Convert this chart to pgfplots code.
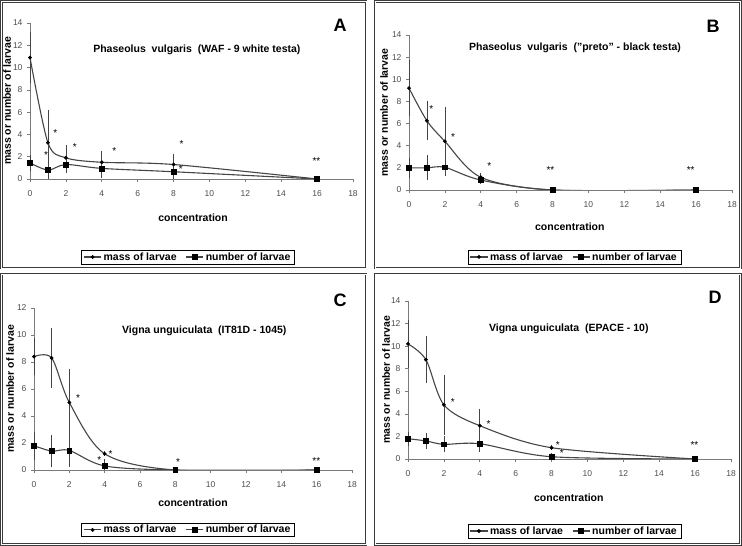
\documentclass[border=0pt]{standalone}
\usepackage{fontspec}
\setmainfont{Liberation Sans}
\usepackage{pgfplots}
\pgfplotsset{compat=1.18}

\definecolor{curve}{HTML}{454545}
\definecolor{axisgray}{HTML}{7A7A7A}
\definecolor{framegray}{HTML}{3C3C3C}

\newcommand{\lblfont}{\bfseries\fontsize{10.5}{12}\selectfont}

\tikzset{
  star/.style={font=\fontsize{10}{10}\selectfont, yshift=-2pt, inner sep=0pt},
  ttl/.style={font=\lblfont},
  frame/.style={draw=framegray, line width=0.8pt, double=white, double distance=0.7pt},
}

\pgfplotsset{
  panel/.style={
    scale only axis, anchor=south west,
    xmin=0, xmax=18, ymin=0,
    axis x line=bottom, axis y line=left,
    axis line style={-, draw=axisgray, line width=0.8pt},
    xtick={0,2,...,18},
    tick style={draw=axisgray, line width=0.6pt},
    tick align=outside, major tick length=3pt,
    ticklabel style={font=\fontsize{8.5}{9}\selectfont, text=black!70},
    /pgf/number format/assume math mode=true,
    xticklabel style={yshift=-5pt},
    yticklabel style={xshift=-1pt},
    label style={font=\lblfont},
    legend columns=2,
    legend cell align=left,
    legend style={draw=black, line width=0.6pt, font=\lblfont,
      inner xsep=2pt, inner ysep=0.3pt, anchor=center,
      /tikz/every even column/.append style={column sep=7pt}},
  },
  massline/.style={color=curve, line width=1.1pt, smooth,
    mark=*, mark size=1.6pt, mark options={fill=black, draw=black, line width=0.6pt},
    error bars/y dir=both, error bars/y explicit,
    error bars/error bar style={color=curve, line width=0.6pt},
    error bars/error mark options={mark size=2.5pt, line width=0.6pt, color=curve}},
  numline/.style={color=curve, line width=1.1pt, smooth,
    mark=square*, mark size=2.4pt, mark options={fill=black, draw=black, line width=0.6pt},
    error bars/y dir=both, error bars/y explicit,
    error bars/error bar style={color=curve, line width=0.6pt},
    error bars/error mark options={mark size=2.5pt, line width=0.6pt, color=curve}},
}

\begin{document}
\begin{tikzpicture}[x=1pt, y=1pt]
\useasboundingbox (0,0) rectangle (742,546);

% panel frames
\draw[frame] (1.5,278) rectangle (366,544.5);
\draw[frame] (375,278) rectangle (740.5,544.5);
\draw[frame] (1.5,1.5) rectangle (366,272);
\draw[frame] (375,1.5) rectangle (740.5,272);

% panel letters
\node[font=\bfseries\fontsize{18}{18}\selectfont] at (340,521) {A};
\node[font=\bfseries\fontsize{18}{18}\selectfont] at (713,520) {B};
\node[font=\bfseries\fontsize{18}{18}\selectfont] at (340,246) {C};
\node[font=\bfseries\fontsize{18}{18}\selectfont] at (715,249) {D};

% ---------------- A ----------------
\begin{axis}[panel, at={(30pt,367pt)}, width=323pt, height=156pt,
  ymax=14, ytick={0,2,...,14},
  xlabel={concentration}, ylabel={mass or number of larvae},
  xlabel style={at={(axis description cs:0.505,-0.25)}, anchor=center},
  ylabel style={at={(axis description cs:-0.071,0.5)}, anchor=center},
  legend style={at={(axis description cs:0.489,-0.50)}}]
\addplot[massline] table[x index=0, y index=1, y error index=2] {
x y e
0 10.9 2.1
1 3.25 2.75
2 1.9 0.9
4 1.5 0.8
8 1.3 0.7
16 0 0
};
\addplot[numline] table[x index=0, y index=1, y error index=2] {
x y e
0 1.45 0.5
1 0.8 0.8
2 1.3 0.5
4 0.95 0.6
8 0.65 0.65
16 0 0
};
\legend{mass of larvae, number of larvae}
\node[ttl] at (axis cs:9.3,11.6) {Phaseolus\ \ vulgaris\ \ (WAF - 9 white testa)};
\node[star] at (axis cs:1.41,4.33) {*};
\node[star] at (axis cs:0.9,2.33) {*};
\node[star] at (axis cs:2.5,3.04) {*};
\node[star] at (axis cs:4.7,2.7) {*};
\node[star] at (axis cs:8.45,3.34) {*};
\node[star] at (axis cs:8.4,1.05) {*};
\node[star] at (axis cs:15.96,1.76) {**};
\end{axis}

% ---------------- B ----------------
\begin{axis}[panel, at={(409pt,356pt)}, width=323pt, height=155pt,
  ymax=14, ytick={0,2,...,14},
  xlabel={concentration}, ylabel={mass or number of larvae},
  xlabel style={at={(axis description cs:0.498,-0.239)}, anchor=center},
  ylabel style={at={(axis description cs:-0.077,0.5)}, anchor=center},
  legend style={at={(axis description cs:0.512,-0.432)}}]
\addplot[massline] table[x index=0, y index=1, y error index=2] {
x y e
0 9.2 2.3
1 6.25 1.55
2 4.4 2.9
4 1.15 0.2
8 0 0
16 0 0
};
\addplot[numline] table[x index=0, y index=1, y error index=2] {
x y e
0 2.0 0.7
1 2.0 0.9
2 2.05 0.5
4 0.9 0.15
8 0 0
16 0 0
};
\legend{mass of larvae, number of larvae}
\node[ttl] at (axis cs:9.25,12.8) {Phaseolus\ \ vulgaris\ \ ("preto" - black testa)};
\node[star] at (axis cs:1.25,7.45) {*};
\node[star] at (axis cs:2.46,4.95) {*};
\node[star] at (axis cs:4.47,2.32) {*};
\node[star] at (axis cs:7.88,1.99) {**};
\node[star] at (axis cs:15.7,1.99) {**};
\end{axis}

% ---------------- C ----------------
\begin{axis}[panel, at={(34pt,76pt)}, width=318pt, height=162pt,
  ymax=12, ytick={0,2,...,12},
  xlabel={concentration}, ylabel={mass or number of larvae},
  xlabel style={at={(axis description cs:0.5,-0.204)}, anchor=center},
  ylabel style={at={(axis description cs:-0.075,0.5)}, anchor=center},
  legend style={at={(axis description cs:0.484,-0.37)}}]
\addplot[massline] table[x index=0, y index=1, y error index=2] {
x y e
0 8.4 1.2
1 8.3 2.05
2 5.0 2.3
4 1.2 0
8 0 0
16 0 0
};
\addplot[numline] table[x index=0, y index=1, y error index=2] {
x y e
0 1.8 0.85
1 1.4 1.0
2 1.45 1.05
4 0.3 0.35
8 0 0
16 0 0
};
\legend{mass of larvae, number of larvae}
\node[ttl] at (axis cs:9.64,10.3) {Vigna unguiculata\ \ (IT81D - 1045)};
\node[star] at (axis cs:2.49,5.47) {*};
\node[star] at (axis cs:3.7,0.86) {*};
\node[star] at (axis cs:4.34,1.35) {*};
\node[star] at (axis cs:8.15,0.76) {*};
\node[star] at (axis cs:15.98,0.79) {**};
\end{axis}

% ---------------- D ----------------
\begin{axis}[panel, at={(408pt,87pt)}, width=323pt, height=158pt,
  ymax=14, ytick={0,2,...,14},
  xlabel={concentration}, ylabel={mass or number of larvae},
  xlabel style={at={(axis description cs:0.498,-0.247)}, anchor=center},
  ylabel style={at={(axis description cs:-0.068,0.5)}, anchor=center},
  legend style={at={(axis description cs:0.515,-0.456)}}]
\addplot[massline] table[x index=0, y index=1, y error index=2] {
x y e
0 10.2 1.9
1 8.8 1.85
2 4.8 2.45
4 2.95 1.3
8 1.0 0
16 0 0
};
\addplot[numline] table[x index=0, y index=1, y error index=2] {
x y e
0 1.8 0.4
1 1.6 0.5
2 1.3 0.5
4 1.35 0.5
8 0.2 0.1
16 0 0
};
\legend{mass of larvae, number of larvae}
\node[ttl] at (axis cs:8.96,11.55) {Vigna unguiculata\ \ (EPACE - 10)};
\node[star] at (axis cs:2.5,5.26) {*};
\node[star] at (axis cs:4.49,3.28) {*};
\node[star] at (axis cs:8.35,1.42) {*};
\node[star] at (axis cs:8.57,0.68) {*};
\node[star] at (axis cs:15.96,1.42) {**};
\end{axis}
\end{tikzpicture}
\end{document}
